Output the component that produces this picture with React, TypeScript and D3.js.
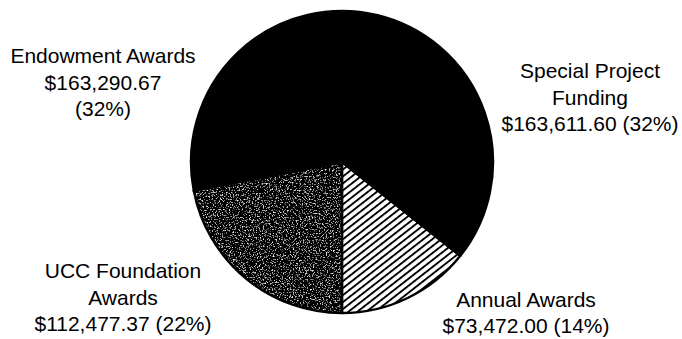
import React from "react";
import * as d3 from "d3";

// ---- data ----
const categories = ["Endowment Awards", "Special Project Funding", "Annual Awards", "UCC Foundation Awards"];
const amounts = [163290.67, 163611.6, 73472.0, 112477.37];
const nameLines = [["Endowment Awards"], ["Special Project", "Funding"], ["Annual Awards"], ["UCC Foundation", "Awards"]];
const fills = ["black", "black", "hatch", "stipple"];

// ---- layout ----
const W = 682, H = 339;
const CX = 342, CY = 162, R = 151;
const FONT = "'Liberation Sans', Arial, Helvetica, sans-serif";
const FS = 21;
const LH = 26.5;
const labelPos = [
  { x: 103, y: 63, split: true },
  { x: 590, y: 78, split: false },
  { x: 526, y: 306.5, split: false },
  { x: 123, y: 278, split: false },
];

const fmtMoney = d3.format("$,.2f");
const fmtPct = d3.format(".0%");

export default function App() {
  const total = d3.sum(amounts);
  const before = d3.sum(amounts.slice(0, 3));
  const start = Math.PI - (2 * Math.PI * before) / total;
  const pie = d3
    .pie<number>()
    .sort(null)
    .value((d) => d)
    .startAngle(start)
    .endAngle(start + 2 * Math.PI);
  const arcs = pie(amounts);
  const arc = d3.arc<d3.PieArcDatum<number>>().innerRadius(0).outerRadius(R);

  const fillFor = (f: string) =>
    f === "hatch" ? "url(#hatch)" : f === "stipple" ? "#3a3a3a" : "black";

  return (
    <svg width={W} height={H} style={{ position: "absolute", left: 0, top: 0, background: "white" }}>
      <defs>
        <pattern id="hatch" patternUnits="userSpaceOnUse" width={5.5} height={5.5} patternTransform="rotate(-38)">
          <rect width={5.5} height={5.5} fill="white" />
          <rect y={0} width={5.5} height={1.9} fill="black" />
        </pattern>
        <filter id="noise" x="0" y="0" width="1" height="1" filterUnits="objectBoundingBox">
          <feTurbulence type="fractalNoise" baseFrequency="0.7" numOctaves={2} seed={7} result="n" />
          <feColorMatrix
            in="n"
            type="matrix"
            values="3.5 0 0 0 -1.95  3.5 0 0 0 -1.95  3.5 0 0 0 -1.95  0 0 0 0 1"
            result="bw"
          />
          <feComposite in="bw" in2="SourceGraphic" operator="in" />
        </filter>
      </defs>
      <g transform={`translate(${CX},${CY})`}>
        {arcs.map((a, i) => (
          <path
            key={categories[i]}
            d={arc(a) || ""}
            fill={fillFor(fills[i])}
            filter={fills[i] === "stipple" ? "url(#noise)" : undefined}
          />
        ))}
        {arcs.map((a, i) => (
          <path
            key={"s" + categories[i]}
            d={arc(a) || ""}
            fill="none"
            stroke="black"
            strokeWidth={2.4}
            strokeLinejoin="round"
          />
        ))}
      </g>
      {categories.map((c, i) => {
        const pos = labelPos[i];
        const money = fmtMoney(amounts[i]);
        const pct = `(${fmtPct(amounts[i] / total)})`;
        const lines = pos.split
          ? [...nameLines[i], money, pct]
          : [...nameLines[i], `${money} ${pct}`];
        return (
          <text key={"t" + c} x={pos.x} y={pos.y} textAnchor="middle" fontFamily={FONT} fontSize={FS} fill="black">
            {lines.map((l, j) => (
              <tspan key={j} x={pos.x} y={pos.y + j * LH}>
                {l}
              </tspan>
            ))}
          </text>
        );
      })}
    </svg>
  );
}
